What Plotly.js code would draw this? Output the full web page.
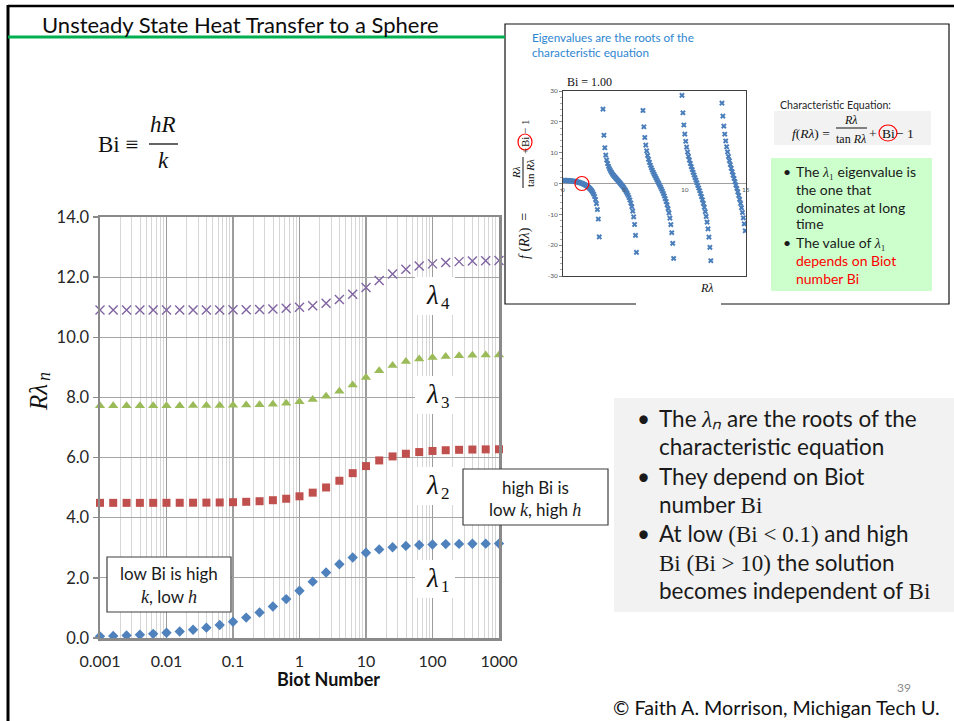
<!DOCTYPE html>
<html><head><meta charset="utf-8">
<script src="https://cdn.plot.ly/plotly-3.0.1.min.js"></script>
<style>html,body{margin:0;padding:0;background:#fff}#chart{width:954px;height:721px}</style>
</head><body><div id="chart"></div>
<script>
// ---------- data ----------
const biot = [0.001,0.00158,0.00251,0.00398,0.00631,0.01,0.0158,0.0251,0.0398,0.0631,0.1,0.158,0.251,0.398,0.631,1,1.58,2.51,3.98,6.31,10,15.8,25.1,39.8,63.1,100,158,251,398,631,1000];
const lambda1 = [0.055,0.069,0.087,0.109,0.138,0.173,0.218,0.274,0.344,0.432,0.542,0.679,0.847,1.050,1.293,1.571,1.874,2.178,2.453,2.675,2.836,2.946,3.017,3.063,3.092,3.110,3.122,3.129,3.134,3.137,3.139];
const lambda2 = [4.494,4.494,4.494,4.494,4.495,4.496,4.497,4.499,4.502,4.507,4.516,4.529,4.549,4.582,4.631,4.712,4.833,5.006,5.230,5.482,5.717,5.905,6.038,6.127,6.184,6.220,6.244,6.258,6.267,6.273,6.277];
const lambda3 = [7.725,7.726,7.726,7.726,7.726,7.727,7.727,7.729,7.731,7.734,7.738,7.746,7.758,7.777,7.807,7.854,7.927,8.040,8.203,8.417,8.659,8.885,9.065,9.192,9.277,9.331,9.365,9.387,9.401,9.410,9.415];
const lambda4 = [10.904,10.904,10.904,10.905,10.905,10.905,10.906,10.906,10.908,10.910,10.913,10.919,10.927,10.941,10.962,10.996,11.049,11.130,11.254,11.430,11.653,11.891,12.101,12.260,12.370,12.441,12.487,12.516,12.535,12.547,12.554];
const xTickVals = [0.001,0.01,0.1,1,10,100,1000];
const xTickText = ['0.001','0.01','0.1','1','10','100','1000'];
const yTickVals = [0,2,4,6,8,10,12,14];

// inset chart: f(R lambda) for Bi = 1.00
const insetRL = [0.076,0.152,0.229,0.305,0.381,0.457,0.533,0.610,0.686,0.762,0.838,0.914,0.991,1.067,1.143,1.219,1.295,1.372,1.448,1.524,1.600,1.676,1.753,1.829,1.905,1.981,2.057,2.134,2.210,2.286,2.362,2.438,2.515,2.591,2.667,2.743,2.819,2.896,2.972,
 3.277,3.353,3.429,3.505,3.581,3.658,3.734,3.810,3.886,3.962,4.039,4.115,4.191,4.267,4.343,4.420,4.496,4.572,4.648,4.724,4.801,4.877,4.953,5.029,5.105,5.182,5.258,5.334,5.410,5.486,5.563,5.639,5.715,5.791,5.867,5.944,6.020,
 6.553,6.629,6.706,6.782,6.858,6.934,7.010,7.087,7.163,7.239,7.315,7.391,7.468,7.544,7.620,7.696,7.772,7.849,7.925,8.001,8.077,8.153,8.230,8.306,8.382,8.458,8.534,8.611,8.687,8.763,8.839,8.915,8.992,9.068,
 9.754,9.830,9.906,9.982,10.058,10.135,10.211,10.287,10.363,10.439,10.516,10.592,10.668,10.744,10.820,10.897,10.973,11.049,11.125,11.201,11.278,11.354,11.430,11.506,11.582,11.659,11.735,11.811,11.887,11.963,12.040,12.116,
 13.030,13.106,13.183,13.259,13.335,13.411,13.487,13.564,13.640,13.716,13.792,13.868,13.945,14.021,14.097,14.173,14.249,14.326,14.402,14.478,14.554,14.630,14.707,14.783,14.859,14.935];
const insetF = [0.998,0.992,0.983,0.969,0.951,0.929,0.903,0.873,0.838,0.799,0.754,0.704,0.649,0.589,0.521,0.447,0.366,0.277,0.179,0.071,-0.047,-0.178,-0.322,-0.483,-0.661,-0.862,-1.088,-1.346,-1.642,-1.986,-2.391,-2.876,-3.471,-4.218,-5.191,-6.517,-8.444,-11.53,-17.33,
 24.13,15.64,11.60,9.210,7.610,6.449,5.550,4.825,4.217,3.692,3.225,2.801,2.407,2.039,1.680,1.333,0.989,0.646,0.299,-0.057,-0.424,-0.809,-1.215,-1.649,-2.117,-2.625,-3.189,-3.819,-4.536,-5.361,-6.329,-7.501,-8.951,-10.81,-13.29,-16.82,-22.33,
 23.67,18.39,14.92,12.45,10.59,9.103,7.878,6.836,5.926,5.114,4.373,3.685,3.039,2.419,1.817,1.224,0.636,0.042,-0.562,-1.185,-1.834,-2.517,-3.244,-4.030,-4.888,-5.839,-6.906,-8.128,-9.549,-11.25,-13.32,-15.96,-19.43,-24.31,
 28.59,22.93,18.97,16.02,13.69,11.80,10.20,8.819,7.594,6.491,5.485,4.524,3.625,2.759,1.915,1.082,0.250,-0.591,-1.450,-2.339,-3.267,-4.250,-5.302,-6.445,-7.700,-9.104,-10.70,-12.54,-14.72,-17.37,-20.70,-25.04,
 26.05,21.87,18.62,15.99,13.80,11.91,10.25,8.763,7.405,6.145,4.955,3.819,2.719,1.639,0.567,-0.510,-1.606,-2.732,-3.901,-5.134,-6.448,-7.864,-9.412,-11.13,-13.08,-15.32];
const insetYTicks = [-30,-20,-10,0,10,20,30];
const insetYText = ['-30','-20','-10','0','10','20','30'];
const insetXTicks = [0,5,10,15];

// ---------- helpers ----------
const W = 954, H = 721;
const X = v => v / W, Y = v => 1 - v / H;
const SANS = 'Lato, Open Sans, sans-serif';
const SERIF = 'Liberation Serif, DejaVu Serif, serif';
const sf = (t, size) => '<span style="font-family:Liberation Serif;font-size:' + size + 'px">' + t + '</span>';

function A(x, y, text, o) {
  const base = {xref:'paper', yref:'paper', x:X(x), y:Y(y), text:text, showarrow:false,
    xanchor:'center', yanchor:'middle', font:{family:SANS, size:14, color:'#1a1a1a'}};
  return Object.assign(base, o || {});
}
function F(size, extra) { return Object.assign({family:SANS, size:size, color:'#1a1a1a'}, extra || {}); }
function FS(size, extra) { return Object.assign({family:SERIF, size:size, color:'#111'}, extra || {}); }
function line(x0, y0, x1, y1, color, width, layer) {
  return {type:'line', xref:'paper', yref:'paper', x0:X(x0), y0:Y(y0), x1:X(x1), y1:Y(y1),
    line:{color:color, width:width}, layer:layer || 'above'};
}
function rect(x0, y0, x1, y1, fill, lc, lw, layer) {
  return {type:'rect', xref:'paper', yref:'paper', x0:X(x0), y0:Y(y0), x1:X(x1), y1:Y(y1),
    fillcolor:fill, line:{color:lc || 'rgba(0,0,0,0)', width:lw || 0}, layer:layer || 'below'};
}
function circ(cx, cy, rx, ry) {
  return {type:'circle', xref:'paper', yref:'paper', x0:X(cx - rx), y0:Y(cy - ry), x1:X(cx + rx), y1:Y(cy + ry),
    line:{color:'#ff0000', width:1.2}, layer:'above'};
}

const minorVals = [];
[0.001,0.01,0.1,1,10,100].forEach(d => { for (let m = 2; m <= 9; m++) minorVals.push(+(m * d).toPrecision(3)); });

// ---------- traces ----------
const traces = [
  {x:biot, y:lambda1, type:'scatter', mode:'markers', cliponaxis:false, hoverinfo:'skip',
   marker:{symbol:'diamond', size:8, color:'#4F81BD'}},
  {x:biot, y:lambda2, type:'scatter', mode:'markers', cliponaxis:false, hoverinfo:'skip',
   marker:{symbol:'square', size:8, color:'#C0504D'}},
  {x:biot, y:lambda3, type:'scatter', mode:'markers', cliponaxis:false, hoverinfo:'skip',
   marker:{symbol:'triangle-up', size:9, color:'#9BBB59'}},
  {x:biot, y:lambda4, type:'scatter', mode:'markers', cliponaxis:false, hoverinfo:'skip',
   marker:{symbol:'x-thin-open', size:9, color:'#8064A2', line:{color:'#8064A2', width:1.4}}},
  {x:insetRL, y:insetF, xaxis:'x2', yaxis:'y2', type:'scatter', mode:'markers', hoverinfo:'skip',
   marker:{symbol:'x', size:5, color:'#4A7EBB', line:{width:0}}}
];

// ---------- shapes ----------
const lamCenters = [[4, 296], [3, 395], [2, 486], [1, 579]];
const shapes = [
  line(8, 6, 954, 6, '#000', 2.5),
  line(8, 5, 8, 721, '#000', 3),
  line(8, 37, 505, 37, '#00B050', 3),
  rect(505, 24, 949, 304, '#ffffff', '#111', 1.2, 'below'),
  line(636, 304, 721, 304, '#ffffff', 3),
  rect(774, 111, 931, 145, '#F2F2F2'),
  rect(771, 158, 932, 291, '#CCFFCC'),
  rect(614, 398, 954, 612, '#F2F2F2'),
  rect(107, 557, 231, 612, '#ffffff', '#3f3f3f', 1.2, 'above'),
  rect(463, 469, 608, 525, '#ffffff', '#3f3f3f', 1.2, 'above'),
  line(149, 144, 178, 144, '#111', 1.3),            // hR/k fraction bar
  line(836, 128, 867, 128, '#111', 1),              // formula fraction bar
  line(523, 157, 523, 188, '#111', 1),              // rotated fraction bar
  circ(888, 133, 9, 8),
  circ(525, 142, 7, 8),
  {type:'circle', xref:'x2', yref:'y2', xsizemode:'pixel', ysizemode:'pixel', xanchor:1.55, yanchor:0,
   x0:-7, x1:7, y0:-7, y1:7, line:{color:'#ff0000', width:1.2}, layer:'above'}
];
lamCenters.forEach(c => shapes.push(rect(415, c[1] - 19, 455, c[1] + 19, '#ffffff', null, 0, 'above')));

// ---------- annotations ----------
const BF = 22.5;   // bullet font size (main gray box)
const GF = 14;     // green box font size
const anns = [
  A(40, 25, 'Unsteady State Heat Transfer to a Sphere', {xanchor:'left', font:F(22, {color:'#0d0d0d'})}),
  A(140, 144, 'Bi ≡', {xanchor:'right', font:FS(23)}),
  A(163, 124, '<i>hR</i>', {font:FS(23)}),
  A(163, 160, '<i>k</i>', {font:FS(23)}),
  // main chart titles
  A(38, 398, '<i>Rλ</i>', {textangle:-90, font:FS(25)}),
  A(44, 377, '<i>n</i>', {textangle:-90, font:FS(18)}),
  A(328, 679, '<b>Biot Number</b>', {font:F(18, {color:'#111'})}),
  // text boxes
  A(169, 573, 'low Bi is high', {font:F(17)}),
  A(169, 596, sf('<i>k</i>', 18) + ', low ' + sf('<i>h</i>', 18), {font:F(17)}),
  A(535, 487, 'high Bi is', {font:F(17)}),
  A(535, 509, 'low ' + sf('<i>k</i>', 18) + ', high ' + sf('<i>h</i>', 18), {font:F(17)}),
  // bullets, main gray box
  A(643, 418, '•', {font:F(BF)}),
  A(657, 418, 'The ' + sf('<i>λₙ</i>', 23) + ' are the roots of the', {xanchor:'left', font:F(BF)}),
  A(657, 447, 'characteristic equation', {xanchor:'left', font:F(BF)}),
  A(643, 476, '•', {font:F(BF)}),
  A(657, 476, 'They depend on Biot', {xanchor:'left', font:F(BF)}),
  A(657, 504, 'number ' + sf('Bi', 23), {xanchor:'left', font:F(BF)}),
  A(643, 533, '•', {font:F(BF)}),
  A(657, 533, 'At low ' + sf('(Bi &lt; 0.1)', 23) + ' and high', {xanchor:'left', font:F(BF)}),
  A(657, 562, sf('Bi (Bi &gt; 10)', 23) + ' the solution', {xanchor:'left', font:F(BF)}),
  A(657, 590, 'becomes independent of ' + sf('Bi', 23), {xanchor:'left', font:F(BF)}),
  // footer
  A(904, 687, '39', {font:F(12, {color:'#8c8c8c'})}),
  A(611, 707, '© Faith A. Morrison, Michigan Tech U.', {xanchor:'left', font:F(19.7, {color:'#111'})}),
  // inset texts
  A(530, 37, 'Eigenvalues are the roots of the', {xanchor:'left', font:F(11.7, {color:'#2E86D0'})}),
  A(530, 52, 'characteristic equation', {xanchor:'left', font:F(11.7, {color:'#2E86D0'})}),
  A(565, 82, 'Bi = 1.00', {xanchor:'left', font:FS(12)}),
  A(707, 288, '<i>Rλ</i>', {font:FS(12)}),
  A(778, 105, 'Characteristic Equation:', {xanchor:'left', font:F(10.6, {color:'#262626'})}),
  A(832, 133, '<i>f</i>(<i>Rλ</i>) =', {xanchor:'right', font:FS(13.5)}),
  A(851, 120, '<i>Rλ</i>', {font:FS(12)}),
  A(851, 139, 'tan <i>Rλ</i>', {font:FS(12)}),
  A(873, 133, '+', {font:FS(13.5)}),
  A(888, 133, 'Bi', {font:FS(13.5)}),
  A(894, 133, '− 1', {xanchor:'left', font:FS(13.5)}),
  // rotated inset y title
  A(525, 236, '<i>f</i> (<i>Rλ</i>)  =', {textangle:-90, font:FS(14)}),
  A(516, 173, '<i>Rλ</i>', {textangle:-90, font:FS(11)}),
  A(530, 173, 'tan <i>Rλ</i>', {textangle:-90, font:FS(11)}),
  A(525, 151, '+', {textangle:-90, font:FS(11)}),
  A(525, 142, 'Bi', {textangle:-90, font:FS(11)}),
  A(525, 127, '− 1', {textangle:-90, font:FS(11)}),
  // green box bullets
  A(787, 171, '•', {font:F(GF)}),
  A(794, 171, 'The ' + sf('<i>λ</i>₁', 14) + ' eigenvalue is', {xanchor:'left', font:F(GF)}),
  A(794, 189, 'the one that', {xanchor:'left', font:F(GF)}),
  A(794, 207, 'dominates at long', {xanchor:'left', font:F(GF)}),
  A(794, 224, 'time', {xanchor:'left', font:F(GF)}),
  A(787, 242, '•', {font:F(GF)}),
  A(794, 242, 'The value of ' + sf('<i>λ</i>₁', 14), {xanchor:'left', font:F(GF)}),
  A(794, 260, 'depends on Biot', {xanchor:'left', font:F(GF, {color:'#FF0000'})}),
  A(794, 278, 'number Bi', {xanchor:'left', font:F(GF, {color:'#FF0000'})})
];
// lambda labels on white patches
lamCenters.forEach(c => {
  anns.push(A(432, c[1] - 1, '<i>λ</i>', {font:FS(27)}));
  anns.push(A(445, c[1] + 7, String(c[0]), {font:FS(17)}));
});
insetXTicks.forEach(v => anns.push({xref:'x2', yref:'y2', x:v, y:0, yshift:-6, text:String(v), showarrow:false,
  xanchor:'center', yanchor:'middle', font:F(6.5, {color:'#595959'})}));

// ---------- layout ----------
const layout = {
  width:W, height:H, margin:{l:0, r:0, t:0, b:0}, paper_bgcolor:'#ffffff', plot_bgcolor:'rgba(0,0,0,0)',
  showlegend:false, font:{family:SANS, color:'#1a1a1a'},
  xaxis:{type:'log', domain:[X(100), X(499)], range:[-3, 3], anchor:'y',
    tickmode:'array', tickvals:xTickVals, ticktext:xTickText, tickfont:F(16, {color:'#262626'}),
    ticks:'outside', ticklen:7, tickcolor:'rgba(0,0,0,0)',
    showgrid:true, gridcolor:'#9c9c9c', gridwidth:1.2,
    minor:{tickvals:minorVals, showgrid:true, gridcolor:'#d6d6d6', gridwidth:1, ticks:''},
    showline:true, mirror:true, linecolor:'#8a8a8a', linewidth:2.5, zeroline:false, fixedrange:true},
  yaxis:{domain:[Y(638), Y(217)], range:[0, 14], anchor:'x',
    tickmode:'array', tickvals:yTickVals, tickformat:'.1f', tickfont:F(16.5, {color:'#262626'}),
    ticks:'outside', ticklen:5, tickcolor:'#8a8a8a', tickwidth:1.3,
    showgrid:true, gridcolor:'#a6a6a6', gridwidth:1.2,
    showline:true, mirror:true, linecolor:'#8a8a8a', linewidth:2.5, zeroline:false, fixedrange:true},
  xaxis2:{domain:[X(563), X(746)], range:[0, 15], anchor:'y2', showgrid:false, zeroline:false,
    showticklabels:false, ticks:'', showline:true, mirror:true, linecolor:'#404040', linewidth:1, fixedrange:true},
  yaxis2:{domain:[Y(276), Y(91)], range:[-30, 30], anchor:'x2', showgrid:false,
    tickmode:'array', tickvals:insetYTicks, ticktext:insetYText, tickfont:F(6.5, {color:'#595959'}),
    ticks:'outside', ticklen:3, tickcolor:'#888', tickwidth:1,
    minor:{tickvals:[-28,-26,-24,-22,-18,-16,-14,-12,-8,-6,-4,-2,2,4,6,8,12,14,16,18,22,24,26,28], ticks:'outside', ticklen:2, tickcolor:'#aaa'},
    zeroline:true, zerolinecolor:'#a0a0a0', zerolinewidth:1.5,
    showline:true, mirror:true, linecolor:'#404040', linewidth:1, fixedrange:true},
  shapes:shapes,
  annotations:anns
};

Plotly.newPlot('chart', traces, layout, {staticPlot:true, displayModeBar:false});
</script>
</body></html>
